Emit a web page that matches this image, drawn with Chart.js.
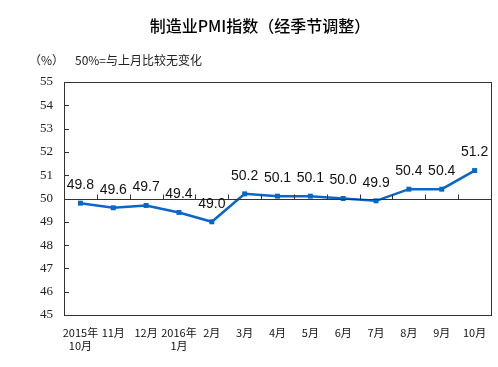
<!DOCTYPE html>
<html>
<head>
<meta charset="utf-8">
<script src="https://cdn.jsdelivr.net/npm/chart.js@4"></script>
<style>
  html, body { margin: 0; padding: 0; background: #fff; }
  #wrap { width: 498px; height: 367px; position: relative; }
</style>
</head>
<body>
<div id="wrap"><canvas id="pmi"></canvas></div>
<script>
// 制造业PMI指数（经季节调整）
const months = [
  ['2015年', '10月'], '11月', '12月', ['2016年', '1月'], '2月', '3月', '4月',
  '5月', '6月', '7月', '8月', '9月', '10月'
];
const pmi = [49.8, 49.6, 49.7, 49.4, 49.0, 50.2, 50.1, 50.1, 50.0, 49.9, 50.4, 50.4, 51.2];
const yMin = 45, yMax = 55, baseLine = 50;

const CJK = '"Noto Sans CJK SC", "Noto Sans", sans-serif';

// 外框、50线、刻度、标题和数据标签
const decor = {
  id: 'decor',
  afterDatasetsDraw(c) {
    const { ctx, chartArea: a, scales: { x, y } } = c;
    ctx.save();
    ctx.strokeStyle = '#333';
    ctx.lineWidth = 1;
    ctx.strokeRect(Math.round(a.left) + 0.5, Math.round(a.top) + 0.5,
      Math.round(a.right - a.left), Math.round(a.bottom - a.top));

    // 左轴内刻度
    ctx.beginPath();
    for (let v = yMin + 1; v < yMax; v++) {
      const py = Math.round(y.getPixelForValue(v)) + 0.5;
      ctx.moveTo(a.left, py); ctx.lineTo(a.left + 5, py);
    }
    // 50% 线及分类刻度
    const by = Math.round(y.getPixelForValue(baseLine)) + 0.5;
    ctx.moveTo(a.left, by); ctx.lineTo(a.right, by);
    for (let i = 1; i < months.length; i++) {
      const px = Math.round((x.getPixelForValue(i - 1) + x.getPixelForValue(i)) / 2) + 0.5;
      ctx.moveTo(px, by); ctx.lineTo(px, by - 5);
    }
    ctx.stroke();

    // 数据标签
    ctx.fillStyle = '#111';
    ctx.font = '14px "Liberation Sans", Arial, sans-serif';
    ctx.textAlign = 'center';
    ctx.textBaseline = 'middle';
    c.getDatasetMeta(0).data.forEach((p, i) => {
      ctx.fillText(pmi[i].toFixed(1), p.x, p.y - 18);
    });

    // 标题
    ctx.fillStyle = '#000';
    ctx.font = '500 16px ' + CJK;
    ctx.fillText('制造业PMI指数（经季节调整）', 260, 26);
    ctx.font = '12px ' + CJK;
    ctx.textAlign = 'left';
    ctx.fillStyle = '#222';
    ctx.fillText('（%）', 29, 60);
    ctx.fillText('50%=与上月比较无变化', 75, 60);
    ctx.restore();
  }
};

new Chart(document.getElementById('pmi'), {
  type: 'line',
  data: {
    labels: months,
    datasets: [{
      data: pmi,
      borderColor: '#0a66c8',
      backgroundColor: '#0a66c8',
      borderWidth: 2.5,
      tension: 0,
      pointStyle: 'rect',
      pointRadius: 3.5,
      pointBorderWidth: 0
    }]
  },
  options: {
    responsive: true,
    maintainAspectRatio: false,
    animation: false,
    layout: { padding: { top: 82, right: 7, left: 0, bottom: 0 } },
    plugins: { legend: { display: false }, tooltip: { enabled: false } },
    scales: {
      x: {
        offset: true,
        grid: { display: false, drawTicks: false },
        border: { display: false },
        ticks: {
          padding: 11, maxRotation: 0, autoSkip: false, color: '#111',
          font: { family: CJK, size: 11 }
        },
        afterFit: s => { s.height = 52; }
      },
      y: {
        min: yMin, max: yMax,
        grid: { display: false, drawTicks: false },
        border: { display: false },
        ticks: {
          stepSize: 1, padding: 11, color: '#222',
          font: { family: '"Liberation Serif", "Times New Roman", serif', size: 13 }
        },
        afterFit: s => { s.width = 64; }
      }
    }
  },
  plugins: [decor]
});
</script>
</body>
</html>
